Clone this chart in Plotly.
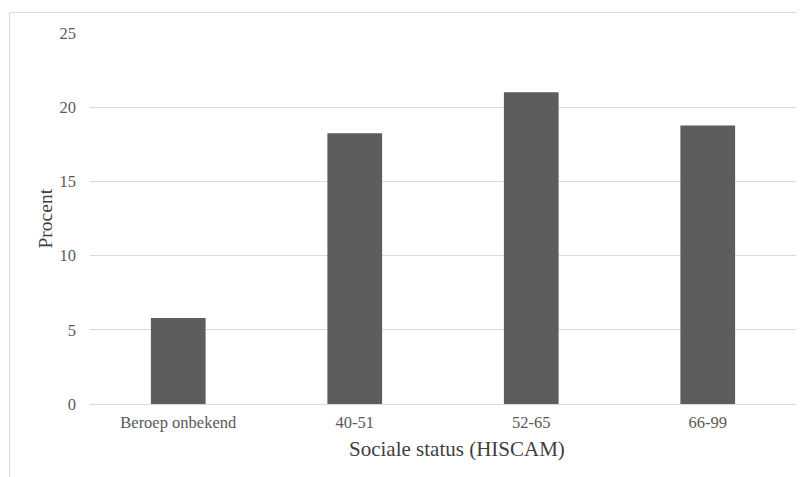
import plotly.graph_objects as go

categories = ["Beroep onbekend", "40-51", "52-65", "66-99"]
values = [5.8, 18.25, 21.0, 18.77]
y_ticks = [0, 5, 10, 15, 20, 25]
x_title = "Sociale status (HISCAM)"
y_title = "Procent"

# page has an 8px body margin; figure is sized so the plot lands where the reference has it
W, H = 797, 469
L, R, T, B = 82, 9, 25, 73
pw, ph = W - L - R, H - T - B


def px_x(x):  # window pixel -> paper x
    return (x - 8 - L) / pw


def px_y(y):  # window pixel -> paper y
    return (H - B - (y - 8)) / ph


fig = go.Figure(go.Bar(
    x=categories, y=values,
    marker=dict(color="#5d5d5d", line=dict(width=0)),
))

grey_text = "#595959"
fig.update_layout(
    width=W, height=H,
    margin=dict(l=L, r=R, t=T, b=B),
    paper_bgcolor="white", plot_bgcolor="white",
    bargap=0.69,
    showlegend=False,
    font=dict(family="Liberation Serif", color=grey_text, size=16),
    xaxis=dict(
        showgrid=False, showline=True, linecolor="#d9d9d9", linewidth=1,
        ticks="", tickfont=dict(size=16.5, color=grey_text), ticklabelstandoff=3,
    ),
    yaxis=dict(
        range=[0, 25], tickvals=y_ticks,
        showgrid=True, gridcolor="#d9d9d9", gridwidth=1,
        zeroline=False, showline=False, ticks="",
        tickfont=dict(size=16.5, color=grey_text), ticklabelstandoff=13,
    ),
    annotations=[
        dict(text=x_title, xref="paper", yref="paper", x=px_x(457.5), y=px_y(449),
             xanchor="center", yanchor="middle", showarrow=False,
             font=dict(size=21, color="#404040", family="Liberation Serif")),
        dict(text=y_title, xref="paper", yref="paper", x=px_x(44.5), y=px_y(219),
             xanchor="center", yanchor="middle", showarrow=False, textangle=-90,
             font=dict(size=19.5, color="#404040", family="Liberation Serif")),
    ],
    shapes=[
        dict(type="line", xref="paper", yref="paper",
             x0=px_x(9.5), x1=px_x(9.5), y0=px_y(12.5), y1=px_y(490),
             line=dict(color="#d9d9d9", width=1)),
        dict(type="line", xref="paper", yref="paper",
             x0=px_x(9.5), x1=px_x(820), y0=px_y(12.5), y1=px_y(12.5),
             line=dict(color="#d9d9d9", width=1)),
    ],
)

fig.write_html("out.html")
